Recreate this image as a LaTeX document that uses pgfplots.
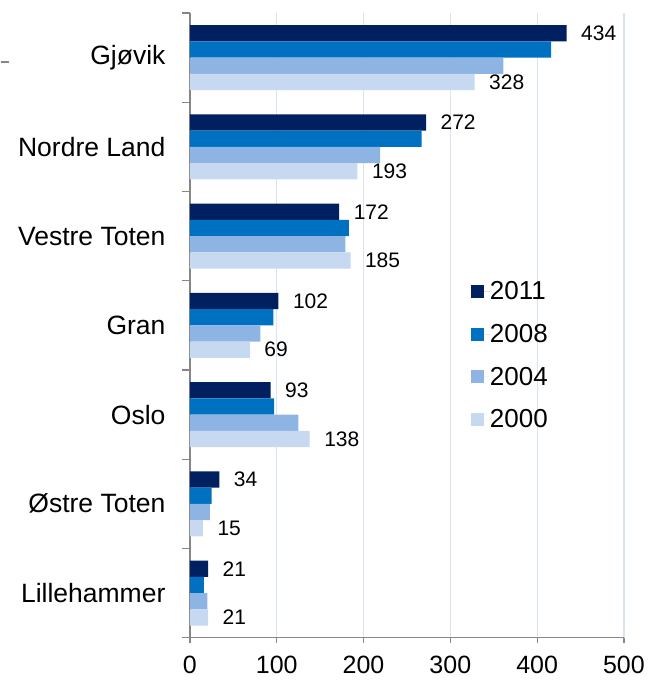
\documentclass[border=0pt]{standalone}
\usepackage{pgfplots}
\pgfplotsset{compat=1.18}
\usepackage{fontspec}
\setmainfont{Liberation Sans}
\definecolor{c2011}{HTML}{002060}
\definecolor{c2008}{HTML}{0070C0}
\definecolor{c2004}{HTML}{8EB4E3}
\definecolor{c2000}{HTML}{C6D9F1}
\definecolor{axgray}{HTML}{868686}
\definecolor{gridc}{HTML}{D9E4F1}
\begin{document}
\begin{tikzpicture}
\begin{axis}[
  scale only axis, width=434pt, height=624.7pt,
  xmin=0, xmax=500, ymin=-0.5, ymax=6.5,
  xbar, bar width=0.182,
  axis x line*=bottom, axis y line*=left,
  axis line style={axgray, line width=1.3pt},
  every tick/.style={axgray, line width=1.3pt},
  tick align=outside,
  major tick length=5pt, minor tick length=7.7pt,
  xtick={0,100,...,500},
  xmajorgrids, grid style={gridc, line width=1.2pt},
  ytick={0,...,6},
  yticklabels={Lillehammer, Østre Toten, Oslo, Gran, Vestre Toten, Nordre Land, Gjøvik},
  minor ytick={-0.5,0.5,...,6.5},
  every major y tick/.append style={draw=none},
  yticklabel style={font=\fontsize{26.5}{30}\selectfont, xshift=-16pt},
  xticklabel style={font=\fontsize{25}{30}\selectfont, yshift=-10pt},
  /pgf/number format/assume math mode=true,
  legend style={at={(0.647,0.570)}, anchor=north west, draw=none, fill=none,
    font=\fontsize{26}{30}\selectfont, row sep=23pt, inner sep=0pt,
    legend cell align=left,
    nodes={inner sep=0pt}},
  legend image code/.code={\path (0pt,0pt) -- (19pt,0pt);\fill[#1,draw=none] (0pt,-6.5pt) rectangle (13pt,6.5pt);},
  nodes near coords style={font=\fontsize{21}{24}\selectfont, anchor=west, xshift=11pt},
]
\addplot[fill=c2011, draw=none, bar shift=0.273, nodes near coords] coordinates {
  (434,6) (272,5) (172,4) (102,3) (93,2) (34,1) (21,0)};
\addplot[fill=c2008, draw=none, bar shift=0.091] coordinates {
  (416,6) (267,5) (183,4) (96,3) (97,2) (25,1) (16,0)};
\addplot[fill=c2004, draw=none, bar shift=-0.091] coordinates {
  (361,6) (219,5) (179,4) (81,3) (125,2) (23,1) (20,0)};
\addplot[fill=c2000, draw=none, bar shift=-0.273, nodes near coords] coordinates {
  (328,6) (193,5) (185,4) (69,3) (138,2) (15,1) (21,0)};
\legend{2011,2008,2004,2000}
\end{axis}
\path ([xshift=-189.3pt,yshift=13pt]current axis.north west);
\path ([xshift=25.7pt,yshift=-42.3pt]current axis.south east);
\draw[axgray, line width=1.3pt] ([xshift=-189.3pt,yshift=-49pt]current axis.north west) -- ++(8pt,0);
\end{tikzpicture}
\end{document}
